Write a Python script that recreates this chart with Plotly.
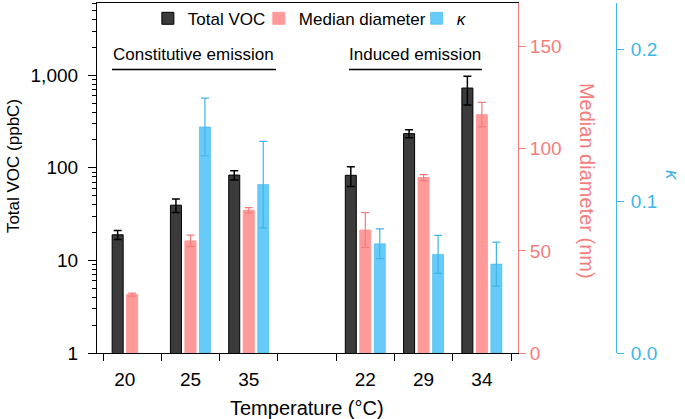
import plotly.graph_objects as go

# temperatures (°C); blank slot separates constitutive / induced
temps = ['20', '25', '35', '', '22', '29', '34']

voc = [18.9, 39.5, 83.5, None, 83, 234, 727]
voc_err = [2.1, 6.5, 9.5, None, 20, 23, 250]

diam = [28.6, 54.9, 69.9, None, 60.2, 85.9, 116.7]
diam_err = [0.7, 2.8, 1.3, None, 8.5, 1.5, 6]

kappa = [None, 0.149, 0.111, None, 0.072, 0.065, 0.0586]
kappa_err = [None, 0.019, 0.0285, None, 0.0098, 0.0125, 0.0145]

ytick_vals = [1, 10, 100, 1000]
ytick_text = ['1', '10', '100', '1,000']

DARK = '#3b3b3b'
PINK = '#ff9a9a'
PINK_LINE = '#f57c7c'
BLUE = '#66cbf8'
BLUE_LINE = '#3fb5e8'
FONT = 'Liberation Sans, Arial, Helvetica, sans-serif'

xpos = list(range(len(temps)))

fig = go.Figure()
fig.add_trace(go.Bar(
    x=xpos, y=voc, name='Total VOC', yaxis='y', offsetgroup='a', legend='legend',
    marker=dict(color=DARK, line=dict(color='black', width=1)),
    error_y=dict(type='data', array=voc_err, color='black', thickness=1.5, width=4)
))
fig.add_trace(go.Bar(
    x=xpos, y=diam, name='Median diameter', yaxis='y2', offsetgroup='b', legend='legend2',
    marker=dict(color=PINK, line=dict(color=PINK, width=1)),
    error_y=dict(type='data', array=diam_err, color=PINK_LINE, thickness=1.2, width=4)
))
fig.add_trace(go.Bar(
    x=xpos, y=kappa, name='<i>κ</i>', yaxis='y3', offsetgroup='c', legend='legend3',
    marker=dict(color=BLUE, line=dict(color=BLUE_LINE, width=0.6)),
    error_y=dict(type='data', array=kappa_err, color=BLUE_LINE, thickness=1.2, width=4)
))

# labels sit under the bars that exist (slot 20 has no κ bar)
label_pos = [i - 0.125 if (kappa[i] is None and voc[i] is not None) else i for i in xpos]
bounds = [i - 0.5 for i in range(len(temps) + 1)]
lab_idx = [i for i in xpos if temps[i]]

leg = dict(orientation='h', y=0.955, xanchor='left', yanchor='middle',
           font=dict(size=17), itemwidth=30, bgcolor='rgba(0,0,0,0)')

fig.update_layout(
    width=685, height=419,
    margin=dict(l=97, r=10, t=1, b=66),
    plot_bgcolor='white', paper_bgcolor='white',
    font=dict(family=FONT, size=19, color='black'),
    barmode='group', bargap=0.254, bargroupgap=0.24,
    showlegend=True,
    legend=dict(leg, x=0.088),
    legend2=dict(leg, x=0.28),
    legend3=dict(leg, x=0.553),
    xaxis=dict(domain=[0, 0.7284], range=[-0.603, 6.62], automargin=False,
               showline=True, linecolor='black', linewidth=1.2, mirror=True,
               tickmode='array', tickvals=[label_pos[i] for i in lab_idx],
               ticktext=[temps[i] for i in lab_idx], ticks='', ticklabelstandoff=9,
               minor=dict(tickmode='array', tickvals=bounds, ticks='outside',
                          ticklen=7, tickwidth=1.2, tickcolor='black'),
               showgrid=False, zeroline=False, tickfont=dict(size=19)),
    yaxis=dict(type='log', range=[0, 3.78], automargin=False,
               showline=True, linecolor='black', linewidth=1.2,
               tickmode='array', tickvals=ytick_vals, ticktext=ytick_text,
               ticks='outside', ticklen=8, tickwidth=1, tickcolor='black', ticklabelstandoff=6,
               minor=dict(tickmode='array',
                          tickvals=[m * 10 ** k for k in range(4) for m in range(2, 10)],
                          ticks='outside', ticklen=4, tickwidth=1, tickcolor='black'),
               showgrid=False, zeroline=False, tickfont=dict(size=19)),
    yaxis2=dict(overlaying='y', side='right', anchor='x', range=[0, 171.4], automargin=False,
                showline=True, linecolor=PINK_LINE, linewidth=1,
                tickvals=[0, 50, 100, 150], ticks='outside', ticklen=7, tickcolor=PINK_LINE,
                tickfont=dict(size=19, color=PINK_LINE), showgrid=False, zeroline=False),
    yaxis3=dict(overlaying='y', side='right', anchor='free', position=0.898, range=[0, 0.2307],
                automargin=False, showline=True, linecolor=BLUE_LINE, linewidth=1,
                tickvals=[0, 0.1, 0.2], tickformat='.1f', ticks='outside', ticklen=7,
                ticklabelstandoff=3,
                tickcolor=BLUE_LINE, tickfont=dict(size=19, color=BLUE_LINE),
                showgrid=False, zeroline=False),
)

# group brackets
for txt, x0, x1 in [('Constitutive emission', -0.346, 2.467), ('Induced emission', 3.72, 6.0)]:
    fig.add_shape(type='line', xref='x', yref='paper', x0=x0, x1=x1, y0=0.8097, y1=0.8097,
                  line=dict(color='black', width=1.5))
    fig.add_annotation(text=txt, xref='x', yref='paper', x=(x0 + x1) / 2, y=0.852,
                       showarrow=False, font=dict(size=17), xanchor='center', yanchor='middle')

# axis titles
titles = [
    ('Total VOC (ppbC)', -0.1453, 0.534, -90, 17, 'black'),
    ('Temperature (°C)', 0.3633, -0.156, 0, 20, 'black'),
    ('Median diameter (nm)', 0.8478, 0.4915, 90, 20, PINK_LINE),
    ('<i>κ</i>', 0.9965, 0.5057, 90, 19, BLUE_LINE),
]
for txt, x, y, ang, size, col in titles:
    fig.add_annotation(text=txt, xref='paper', yref='paper', x=x, y=y, textangle=ang,
                       showarrow=False, xanchor='center', yanchor='middle',
                       font=dict(size=size, color=col))

fig.write_html('out.html', config={'displayModeBar': False},
               post_script="document.body.style.margin='0';")
